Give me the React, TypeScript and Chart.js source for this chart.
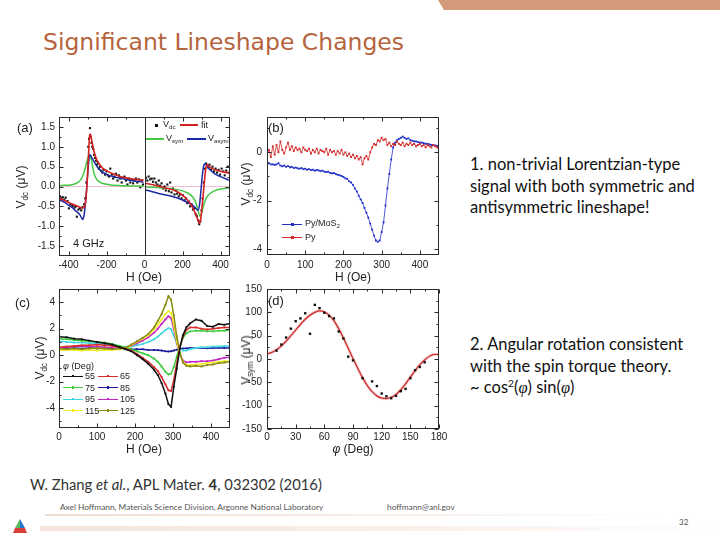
import React, { useEffect, useRef } from "react";
import { Chart, registerables } from "chart.js";
Chart.register(...registerables);

// ---------------- Panel (a): V_dc vs H, 4 GHz ----------------
const A_X_TICKS = [-400, -200, 0, 200, 400];
const A_X_MINOR = [-300, -100, 100, 300];
const A_Y_TICKS = [-1.5, -1.0, -0.5, 0, 0.5, 1.0, 1.5];
const A_Y_MINOR = [-1.25, -0.75, -0.25, 0.25, 0.75, 1.25];

const A_ZERO_H = [-450, 450];
const A_ZERO_V = [0, 0];

const A_L_FIT_H = [-450, -420, -400, -380, -360, -340, -325, -315, -308, -302, -297, -293, -289, -285, -280, -272, -262, -250, -235, -220, -200, -180, -150, -120, -90, -60, -30, -5];
const A_L_FIT_V = [-0.30, -0.35, -0.40, -0.44, -0.48, -0.52, -0.54, -0.50, -0.30, 0.10, 0.55, 0.95, 1.28, 1.32, 1.22, 1.02, 0.82, 0.66, 0.55, 0.46, 0.40, 0.35, 0.29, 0.24, 0.21, 0.19, 0.17, 0.16];
const A_L_SYM_H = [-450, -420, -390, -365, -345, -330, -318, -308, -300, -294, -289, -284, -278, -271, -262, -250, -235, -215, -190, -160, -120, -80, -40, -5];
const A_L_SYM_V = [0.02, 0.03, 0.04, 0.07, 0.12, 0.22, 0.36, 0.53, 0.68, 0.77, 0.80, 0.77, 0.64, 0.45, 0.28, 0.17, 0.11, 0.07, 0.05, 0.03, 0.02, 0.01, 0.01, 0.0];
const A_L_ASYM_H = [-450, -420, -400, -380, -365, -350, -339, -330, -325, -318, -312, -306, -300, -295, -289, -284, -277, -267, -255, -241, -220, -188, -150, -118, -80, -40, -5];
const A_L_ASYM_V = [-0.33, -0.40, -0.47, -0.53, -0.60, -0.66, -0.72, -0.80, -0.83, -0.72, -0.47, -0.15, 0.25, 0.54, 0.80, 0.78, 0.72, 0.64, 0.54, 0.45, 0.36, 0.28, 0.23, 0.20, 0.16, 0.13, 0.11];

const A_R_FIT_H = [5, 40, 80, 120, 160, 200, 230, 250, 265, 278, 288, 296, 304, 312, 320, 328, 336, 350, 380, 410, 445];
const A_R_FIT_V = [0.08, 0.05, 0.0, -0.05, -0.10, -0.22, -0.36, -0.50, -0.65, -0.80, -0.92, -0.82, -0.45, -0.05, 0.35, 0.55, 0.52, 0.47, 0.41, 0.37, 0.34];
const A_R_SYM_H = [5, 50, 100, 150, 200, 230, 255, 270, 282, 292, 300, 310, 322, 335, 355, 385, 420, 445];
const A_R_SYM_V = [-0.01, -0.02, -0.04, -0.06, -0.11, -0.17, -0.27, -0.40, -0.60, -0.75, -0.68, -0.50, -0.32, -0.22, -0.14, -0.08, -0.05, -0.03];
const A_R_ASYM_H = [5, 40, 80, 120, 160, 200, 230, 255, 272, 282, 290, 298, 306, 314, 320, 330, 345, 370, 400, 445];
const A_R_ASYM_V = [-0.09, -0.13, -0.18, -0.22, -0.27, -0.34, -0.41, -0.48, -0.56, -0.60, -0.45, -0.05, 0.35, 0.55, 0.57, 0.50, 0.42, 0.32, 0.25, 0.16];

const A_L_DOT_H = [-445, -438, -430, -422, -415, -405, -398, -390, -382, -375, -368, -360, -356, -348, -340, -333, -326, -318, -312, -306, -300, -296, -292, -287, -283, -279, -275, -270, -265, -260, -255, -250, -245, -240, -235, -228, -222, -215, -208, -200, -193, -186, -180, -172, -165, -158, -150, -142, -135, -128, -120, -112, -105, -98, -90, -82, -75, -68, -60, -52, -45, -38, -30, -22, -15, -8];
const A_L_DOT_V = [-0.25, -0.30, -0.27, -0.33, -0.28, -0.37, -0.55, -0.45, -0.50, -0.48, -0.53, -0.50, -0.76, -0.58, -0.55, -0.60, -0.52, -0.45, -0.30, 0.10, 0.60, 1.00, 1.20, 1.47, 1.25, 1.10, 1.00, 0.95, 0.80, 0.72, 0.65, 0.55, 0.60, 0.45, 0.50, 0.40, 0.35, 0.42, 0.30, 0.38, 0.28, 0.25, 0.45, 0.30, 0.20, 0.25, 0.32, 0.15, 0.28, 0.20, 0.10, 0.22, 0.25, 0.15, 0.05, 0.20, 0.10, 0.18, 0.08, 0.15, 0.20, 0.10, 0.18, -0.02, 0.15, 0.05];
const A_R_DOT_H = [8, 15, 22, 30, 38, 45, 52, 60, 68, 75, 82, 90, 98, 105, 112, 120, 128, 135, 142, 150, 158, 165, 172, 180, 188, 195, 202, 210, 218, 225, 232, 240, 248, 255, 262, 270, 276, 282, 288, 294, 300, 306, 312, 318, 324, 330, 336, 342, 350, 358, 366, 374, 382, 390, 398, 406, 414, 422, 430, 438, 446];
const A_R_DOT_V = [0.22, 0.15, 0.25, 0.18, 0.20, 0.12, 0.20, 0.10, 0.05, 0.15, 0.02, 0.08, -0.05, 0.00, -0.10, 0.05, -0.12, 0.10, -0.15, -0.05, -0.20, -0.10, -0.18, -0.25, -0.20, -0.30, -0.22, -0.35, -0.30, -0.42, -0.38, -0.50, -0.45, -0.58, -0.55, -0.70, -0.75, -0.85, -0.95, -0.88, -0.60, -0.30, 0.10, 0.45, 0.58, 0.52, 0.48, 0.55, 0.42, 0.50, 0.38, 0.45, 0.35, 0.42, 0.30, 0.45, 0.38, 0.28, 0.40, 0.50, 0.35];

// ---------------- Panel (b): Py/MoS2 vs Py ----------------
const B_X_TICKS = [0, 100, 200, 300, 400];
const B_X_MINOR = [50, 150, 250, 350];
const B_Y_TICKS = [-4, -2, 0];
const B_Y_MINOR = [-3, -1, 1];
const B_H = [
  0, 5, 10, 15, 20, 25, 30, 35, 40, 45,
  50, 55, 60, 65, 70, 75, 80, 85, 90, 95,
  100, 105, 110, 115, 120, 125, 130, 135, 140, 145,
  150, 155, 160, 165, 170, 175, 180, 185, 190, 195,
  200, 205, 210, 215, 220, 225, 230, 235, 240, 245,
  250, 255, 260, 265, 270, 275, 280, 285, 290, 295,
  300, 305, 310, 315, 320, 325, 330, 335, 340, 345,
  350, 355, 360, 365, 370, 375, 380, 385, 390, 395,
  400, 405, 410, 415, 420, 425, 430, 435, 440, 445,
  450,
];
const B_PY_MOS2 = [
  -0.55, -0.45, -0.50, -0.50, -0.52, -0.50, -0.45, -0.55, -0.58, -0.55,
  -0.60, -0.57, -0.62, -0.60, -0.65, -0.63, -0.66, -0.68, -0.65, -0.70,
  -0.68, -0.72, -0.70, -0.74, -0.72, -0.76, -0.73, -0.75, -0.78, -0.76,
  -0.80, -0.82, -0.80, -0.85, -0.87, -0.86, -0.90, -0.93, -0.95, -0.98,
  -1.02, -1.08, -1.10, -1.20, -1.25, -1.35, -1.50, -1.62, -1.80, -1.95,
  -2.10, -2.30, -2.50, -2.70, -2.95, -3.20, -3.45, -3.65, -3.70, -3.65,
  -3.30, -2.90, -2.20, -1.50, -0.90, -0.30, 0.20, 0.40, 0.50, 0.55,
  0.60, 0.65, 0.60, 0.55, 0.58, 0.50, 0.48, 0.45, 0.45, 0.42,
  0.40, 0.40, 0.38, 0.35, 0.35, 0.33, 0.30, 0.30, 0.28, 0.27,
  0.25,
];
const B_PY = [
  -0.10, 0.10, -0.20, 0.25, -0.10, 0.30, 0.00, 0.45, 0.10, -0.05,
  0.20, 0.40, 0.10, 0.25, 0.05, 0.20, 0.10, 0.15, 0.00, 0.20,
  0.10, 0.05, 0.15, -0.05, 0.10, 0.00, 0.15, -0.05, 0.10, 0.05,
  0.00, 0.15, -0.10, 0.10, 0.00, 0.05, -0.10, 0.05, -0.05, 0.10,
  -0.10, 0.00, -0.15, -0.05, -0.20, -0.10, -0.25, -0.15, -0.30, -0.20,
  -0.50, -0.25, -0.15, -0.30, 0.00, 0.20, 0.35, 0.30, 0.50, 0.45,
  0.60, 0.50, 0.55, 0.30, 0.40, 0.25, 0.35, 0.30, 0.45, 0.35,
  0.30, 0.40, 0.25, 0.35, 0.30, 0.40, 0.30, 0.35, 0.25, 0.30,
  0.35, 0.25, 0.30, 0.20, 0.30, 0.25, 0.20, 0.30, 0.25, 0.20,
  0.25,
];

// ---------------- Panel (c): angle dependence of V_dc ----------------
const C_X_TICKS = [0, 100, 200, 300, 400];
const C_X_MINOR = [50, 150, 250, 350];
const C_Y_TICKS = [-4, -2, 0, 2, 4];
const C_Y_MINOR = [-5, -3, -1, 1, 3];
const C_H = [0, 20, 40, 60, 80, 100, 120, 140, 160, 175, 190, 205, 220, 235, 250, 260, 270, 280, 288, 295, 302, 310, 318, 326, 335, 345, 360, 375, 390, 405, 420, 435, 450];
const C_PHI = ["55", "65", "75", "85", "95", "105", "115", "125"];
const C_55 = [1.4, 1.35, 1.25, 1.2, 1.1, 1.0, 0.9, 0.8, 0.6, 0.45, 0.3, 0.0, -0.3, -0.65, -1.1, -1.5, -2.1, -2.9, -3.7, -3.9, -2.4, -1.0, 0.5, 1.5, 2.1, 2.4, 2.7, 2.6, 2.2, 2.15, 2.35, 2.3, 2.4];
const C_65 = [0.6, 0.65, 0.7, 0.75, 0.75, 0.8, 0.75, 0.7, 0.6, 0.5, 0.35, 0.1, -0.2, -0.5, -0.9, -1.2, -1.65, -2.2, -2.65, -2.7, -1.9, -0.6, 0.6, 1.4, 1.9, 2.1, 2.1, 2.0, 1.95, 2.0, 2.05, 2.1, 2.1];
const C_75 = [1.25, 1.2, 1.15, 1.1, 1.05, 1.0, 0.95, 0.85, 0.7, 0.6, 0.45, 0.3, 0.15, 0.0, -0.25, -0.5, -0.85, -1.25, -1.45, -1.4, -0.9, -0.1, 0.7, 1.3, 1.65, 1.8, 1.85, 1.85, 1.8, 1.8, 1.85, 1.85, 1.9];
const C_85 = [0.5, 0.5, 0.55, 0.5, 0.55, 0.5, 0.5, 0.5, 0.5, 0.5, 0.45, 0.45, 0.45, 0.4, 0.4, 0.38, 0.35, 0.3, 0.28, 0.3, 0.35, 0.42, 0.48, 0.5, 0.52, 0.55, 0.55, 0.55, 0.52, 0.55, 0.55, 0.55, 0.55];
const C_95 = [1.05, 1.0, 0.95, 0.95, 0.9, 0.9, 0.85, 0.75, 0.65, 0.6, 0.65, 0.75, 0.85, 1.0, 1.2, 1.4, 1.65, 1.9, 2.05, 1.95, 1.5, 0.9, 0.5, 0.35, 0.35, 0.45, 0.55, 0.6, 0.6, 0.65, 0.65, 0.7, 0.7];
const C_105 = [0.55, 0.6, 0.65, 0.7, 0.65, 0.65, 0.6, 0.55, 0.5, 0.55, 0.7, 0.9, 1.1, 1.35, 1.7, 2.0, 2.35, 2.7, 2.95, 2.8, 2.0, 0.9, 0.1, -0.4, -0.55, -0.5, -0.5, -0.45, -0.45, -0.4, -0.3, -0.2, -0.15];
const C_115 = [0.35, 0.4, 0.4, 0.35, 0.4, 0.35, 0.4, 0.4, 0.45, 0.5, 0.75, 1.0, 1.25, 1.5, 1.95, 2.3, 2.7, 3.1, 3.35, 3.2, 2.3, 1.0, 0.1, -0.5, -0.7, -0.75, -0.7, -0.65, -0.6, -0.55, -0.5, -0.45, -0.45];
const C_125 = [0.5, 0.45, 0.5, 0.45, 0.5, 0.55, 0.5, 0.45, 0.5, 0.55, 0.8, 1.05, 1.3, 1.6, 2.1, 2.6, 3.1, 3.8, 4.45, 4.2, 3.0, 1.4, 0.2, -0.55, -0.8, -0.85, -0.8, -0.85, -0.75, -0.7, -0.6, -0.55, -0.5];
const C_COLORS = ["#111111", "#d42a2a", "#3ccc3c", "#1a1a9a", "#3ed8e0", "#c424c4", "#eeee20", "#8a8a10"];

// ---------------- Panel (d): V_sym vs angle ----------------
const D_X_TICKS = [0, 30, 60, 90, 120, 150, 180];
const D_X_MINOR = [15, 45, 75, 105, 135, 165];
const D_Y_TICKS = [-150, -100, -50, 0, 50, 100, 150];
const D_Y_MINOR = [-125, -75, -25, 25, 75, 125];
const D_FIT_PHI = [0, 5, 10, 15, 20, 25, 30, 35, 40, 45, 50, 55, 60, 65, 70, 75, 80, 85, 90, 95, 100, 105, 110, 115, 120, 125, 130, 135, 140, 145, 150, 155, 160, 165, 170, 175, 180];
const D_FIT_V = [11, 14, 20, 28, 38, 50, 62, 74, 85, 94, 100, 103, 101, 94, 82, 65, 45, 23, 1, -20, -40, -57, -70, -79, -84, -85, -82, -76, -66, -53, -39, -25, -12, -2, 6, 10, 10];
const D_DOT_PHI = [10, 15, 20, 25, 30, 35, 40, 45, 50, 55, 60, 65, 70, 75, 80, 85, 90, 100, 110, 115, 120, 125, 130, 135, 140, 145, 150, 155, 160, 165];
const D_DOT_V = [18, 31, 46, 65, 81, 87, 98, 54, 116, 109, 99, 92, 87, 59, 44, 5, -3, -41, -48, -58, -74, -80, -84, -79, -69, -64, -41, -24, -17, -7];

// ---------------- helpers ----------------
const pts = (xs: number[], ys: number[]) => xs.map((x, i) => ({ x, y: ys[i] }));
const TICK_FONT = { family: "'Liberation Sans', Arial, sans-serif", size: 10 };

function makeFrame(xMajor: number[], xMinor: number[], yMajor: number[], yMinor: number[], divider?: number) {
  return {
    id: "frame",
    afterDatasetsDraw(chart: any) {
      const { ctx, chartArea: a, scales } = chart;
      const xs = scales.x, ys = scales.y;
      ctx.save();
      ctx.strokeStyle = "#2a2a2a";
      ctx.lineWidth = 1;
      const L = Math.round(a.left) + 0.5, R = Math.round(a.right) - 0.5;
      const T = Math.round(a.top) + 0.5, B = Math.round(a.bottom) - 0.5;
      const seg = (x1: number, y1: number, x2: number, y2: number) => {
        ctx.beginPath(); ctx.moveTo(x1, y1); ctx.lineTo(x2, y2); ctx.stroke();
      };
      ctx.strokeRect(L, T, R - L, B - T);
      const xt = (vals: number[], len: number) => vals.forEach((v) => {
        const p = Math.round(xs.getPixelForValue(v)) + 0.5;
        seg(p, B, p, B - len); seg(p, T, p, T + len);
      });
      const yt = (vals: number[], len: number) => vals.forEach((v) => {
        const p = Math.round(ys.getPixelForValue(v)) + 0.5;
        seg(L, p, L + len, p); seg(R, p, R - len, p);
      });
      xt(xMajor, 4); xt(xMinor, 2); yt(yMajor, 4); yt(yMinor, 2);
      if (divider !== undefined) {
        const p = Math.round(xs.getPixelForValue(divider)) + 0.5;
        seg(p, T, p, B);
      }
      ctx.restore();
    },
  };
}

function makeScales(p: any) {
  return {
    x: {
      type: "linear", min: p.xmin, max: p.xmax,
      grid: { display: false, drawTicks: false }, border: { display: false },
      afterBuildTicks: (s: any) => { s.ticks = p.xt.map((v: number) => ({ value: v })); },
      afterFit: (s: any) => { s.height = p.xh; s.paddingLeft = 0; s.paddingRight = 0; },
      ticks: { font: TICK_FONT, color: "#222", padding: p.xpad, autoSkip: false, maxRotation: 0, minRotation: 0,
        callback: (v: any) => String(v) },
    },
    y: {
      type: "linear", min: p.ymin, max: p.ymax,
      grid: { display: false, drawTicks: false }, border: { display: false },
      afterBuildTicks: (s: any) => { s.ticks = p.yt.map((v: number) => ({ value: v })); },
      afterFit: (s: any) => { s.width = p.yw; s.paddingTop = 0; s.paddingBottom = 0; },
      ticks: { font: TICK_FONT, color: "#222", padding: p.ypad, autoSkip: false,
        callback: p.yf || ((v: any) => String(v)) },
    },
  };
}

function baseOptions(p: any) {
  return {
    animation: false, responsive: false, maintainAspectRatio: false, devicePixelRatio: 1, events: [],
    layout: { padding: p.pad },
    plugins: { legend: { display: false }, tooltip: { enabled: false }, title: { display: false } },
    scales: makeScales(p),
  };
}

const line = (data: any, color: string, width: number) => ({
  data, showLine: true, borderColor: color, borderWidth: width, pointRadius: 0,
  cubicInterpolationMode: "monotone", fill: false,
});
const dots = (data: any, color: string, r: number) => ({
  data, showLine: false, pointRadius: r, pointStyle: "rect", pointBackgroundColor: color,
  pointBorderColor: color, pointBorderWidth: 0,
});
const dotLine = (data: any, color: string, r: number, w: number) => ({
  data, showLine: true, borderColor: color, borderWidth: w, pointRadius: r, pointStyle: "rect",
  pointBackgroundColor: color, pointBorderColor: color, pointBorderWidth: 0, tension: 0,
});

function configA() {
  return {
    type: "scatter",
    data: {
      datasets: [
        line(pts(A_L_FIT_H, A_L_FIT_V), "#d42020", 1.6),
        line(pts(A_R_FIT_H, A_R_FIT_V), "#d42020", 1.6),
        line(pts(A_L_ASYM_H, A_L_ASYM_V), "#1c2aa6", 1.5),
        line(pts(A_R_ASYM_H, A_R_ASYM_V), "#1c2aa6", 1.5),
        line(pts(A_L_SYM_H, A_L_SYM_V), "#44c844", 1.5),
        line(pts(A_R_SYM_H, A_R_SYM_V), "#44c844", 1.5),
        dots(pts(A_L_DOT_H, A_L_DOT_V), "#111", 1.5),
        dots(pts(A_R_DOT_H, A_R_DOT_V), "#111", 1.5),
        { ...line(pts(A_ZERO_H, A_ZERO_V), "#f2bcd2", 1), cubicInterpolationMode: "default" },
      ],
    },
    options: baseOptions({ xmin: -450, xmax: 450, ymin: -1.75, ymax: 1.75, xt: A_X_TICKS, yt: A_Y_TICKS,
      yw: 59, xh: 29, xpad: 3, ypad: 4, pad: { left: 0, top: 12, right: 10, bottom: 0 },
      yf: (v: any) => Number(v).toFixed(1) }),
    plugins: [makeFrame(A_X_TICKS, A_X_MINOR, A_Y_TICKS, A_Y_MINOR, 0)],
  };
}

function configB() {
  return {
    type: "scatter",
    data: {
      datasets: [
        dotLine(pts(B_H, B_PY), "#d42828", 1.3, 0.8),
        dotLine(pts(B_H, B_PY_MOS2), "#2030c8", 1.3, 0.8),
      ],
    },
    options: baseOptions({ xmin: 0, xmax: 450, ymin: -4.25, ymax: 1.46, xt: B_X_TICKS, yt: B_Y_TICKS,
      yw: 31, xh: 30, xpad: 4, ypad: 5, pad: { left: 0, top: 12, right: 11, bottom: 0 } }),
    plugins: [makeFrame(B_X_TICKS, B_X_MINOR, B_Y_TICKS, B_Y_MINOR)],
  };
}

function configC() {
  const series = [C_55, C_65, C_75, C_85, C_95, C_105, C_115, C_125];
  const order = [0, 7, 1, 6, 2, 5, 4, 3];
  return {
    type: "scatter",
    data: { datasets: order.map((i) => dotLine(pts(C_H, series[i]), C_COLORS[i], 1.3, 1.5)) },
    options: baseOptions({ xmin: 0, xmax: 450, ymin: -5.5, ymax: 5, xt: C_X_TICKS, yt: C_Y_TICKS,
      yw: 59, xh: 22, xpad: 3, ypad: 4, pad: { left: 0, top: 9, right: 10, bottom: 0 } }),
    plugins: [makeFrame(C_X_TICKS, C_X_MINOR, C_Y_TICKS, C_Y_MINOR)],
  };
}

function configD() {
  return {
    type: "scatter",
    data: {
      datasets: [
        dots(pts(D_DOT_PHI, D_DOT_V), "#111", 1.7),
        line(pts(D_FIT_PHI, D_FIT_V), "#cf2a2a", 1.3),
        line(pts(D_FIT_PHI, D_FIT_V), "rgba(235,150,150,0.4)", 3.2),
      ],
    },
    options: baseOptions({ xmin: 0, xmax: 180, ymin: -150, ymax: 150, xt: D_X_TICKS, yt: D_Y_TICKS,
      yw: 31, xh: 21, xpad: 2, ypad: 5, pad: { left: 0, top: 9, right: 11, bottom: 0 } }),
    plugins: [makeFrame(D_X_TICKS, D_X_MINOR, D_Y_TICKS, D_Y_MINOR)],
  };
}

function ChartBox({ left, top, width, height, make }: any) {
  const ref = useRef<HTMLCanvasElement>(null);
  useEffect(() => {
    const c = new Chart(ref.current as any, make() as any);
    return () => c.destroy();
  }, []);
  return (
    <canvas ref={ref} width={width} height={height}
      style={{ position: "absolute", left, top, width, height }} />
  );
}

const AX = "'Liberation Sans', Arial, sans-serif";
const Sub = ({ children }: any) => (
  <span style={{ fontSize: "0.68em", verticalAlign: "-0.35em", lineHeight: 0 }}>{children}</span>
);
const Txt = ({ x, y, size = 12, center = false, children, style }: any) => (
  <div style={{ position: "absolute", left: x, top: y, transform: center ? "translate(-50%,-50%)" : "translate(0,-50%)",
    whiteSpace: "nowrap", lineHeight: 1, fontFamily: AX, fontSize: size, color: "#222", ...style }}>{children}</div>
);
const VTxt = ({ x, y, size = 12, children }: any) => (
  <div style={{ position: "absolute", left: x, top: y, transform: "translate(-50%,-50%) rotate(-90deg)",
    whiteSpace: "nowrap", lineHeight: 1, fontFamily: AX, fontSize: size, color: "#222" }}>{children}</div>
);
const Seg = ({ x1, x2, y, color, w = 1.5 }: any) => (
  <div style={{ position: "absolute", left: x1, top: y - w / 2, width: x2 - x1, height: w, background: color }} />
);
const Mark = ({ x, y, color, s = 3 }: any) => (
  <div style={{ position: "absolute", left: x - s / 2, top: y - s / 2, width: s, height: s, background: color }} />
);

export default function App() {
  useEffect(() => { document.body.style.margin = "0"; }, []);
  const cLegend = [
    [63, 376, 0], [98, 376, 1], [63, 387.5, 2], [98, 387.5, 3],
    [63, 399, 4], [98, 399, 5], [63, 410.5, 6], [98, 410.5, 7],
  ];
  const note = { position: "absolute" as const, left: 470, width: 250, fontSize: 16.5, lineHeight: "21.5px",
    color: "#111", whiteSpace: "nowrap" as const };
  return (
    <div style={{ position: "absolute", left: 0, top: 0, width: 720, height: 540, overflow: "hidden",
      background: "#fff", fontFamily: "Lato, sans-serif" }}>
      {/* top decoration */}
      <svg width={720} height={20} style={{ position: "absolute", left: 0, top: 0 }}>
        <polygon points="438,0 720,0 720,10 444,10" fill="#d49b7a" />
      </svg>
      <div style={{ position: "absolute", left: 43, top: 27, fontFamily: "'DejaVu Sans', sans-serif", fontSize: 23.5,
        lineHeight: "30px", color: "#b5643d", whiteSpace: "nowrap" }}>Significant Lineshape Changes</div>

      <ChartBox left={0} top={105} width={240} height={180} make={configA} />
      <ChartBox left={236} top={105} width={214} height={180} make={configB} />
      <ChartBox left={0} top={280} width={240} height={170} make={configC} />
      <ChartBox left={236} top={280} width={214} height={170} make={configD} />

      {/* panel (a) annotations */}
      <Txt x={17} y={127} size={13}>(a)</Txt>
      <VTxt x={21} y={187}>V<Sub>dc</Sub> (μV)</VTxt>
      <Txt x={144} y={277} center>H (Oe)</Txt>
      <Txt x={73} y={243} size={11}>4 GHz</Txt>
      <Mark x={156} y={125} color="#111" />
      <Txt x={163} y={124} size={9}>V<Sub>dc</Sub></Txt>
      <Seg x1={180} x2={198} y={125} color="#d42020" />
      <Txt x={201} y={125} size={9}>fit</Txt>
      <Seg x1={146} x2={164} y={139} color="#44c844" />
      <Txt x={166} y={138} size={9}>V<Sub>sym</Sub></Txt>
      <Seg x1={187} x2={206} y={139} color="#1c2aa6" />
      <Txt x={208} y={138} size={9}>V<Sub>asym</Sub></Txt>

      {/* panel (b) annotations */}
      <Txt x={268} y={127} size={13}>(b)</Txt>
      <VTxt x={246} y={184}>V<Sub>dc</Sub> (μV)</VTxt>
      <Txt x={353} y={277} center>H (Oe)</Txt>
      <Seg x1={282} x2={302} y={224} color="#2030c8" w={1} />
      <Mark x={292} y={224} color="#2030c8" />
      <Txt x={305} y={223} size={9}>Py/MoS<Sub>2</Sub></Txt>
      <Seg x1={282} x2={302} y={237} color="#d42828" w={1} />
      <Mark x={292} y={237} color="#d42828" />
      <Txt x={305} y={237} size={9}>Py</Txt>

      {/* panel (c) annotations */}
      <Txt x={15} y={302} size={13}>(c)</Txt>
      <VTxt x={40} y={358}>V<Sub>dc</Sub> (μV)</VTxt>
      <Txt x={144} y={449} center>H (Oe)</Txt>
      <Txt x={63} y={366} size={9}><i>φ</i> (Deg)</Txt>
      {cLegend.map(([x, y, i]) => (
        <React.Fragment key={i}>
          <Seg x1={x} x2={x + 20} y={y} color={C_COLORS[i]} w={1} />
          <Mark x={x + 10} y={y} color={C_COLORS[i]} s={2.5} />
          <Txt x={x + 22} y={y} size={9}>{C_PHI[i]}</Txt>
        </React.Fragment>
      ))}

      {/* panel (d) annotations */}
      <Txt x={268} y={300} size={13}>(d)</Txt>
      <VTxt x={246} y={360}>V<Sub>sym</Sub> (μV)</VTxt>
      <Txt x={353} y={449} center><i>φ</i> (Deg)</Txt>

      {/* right-hand notes */}
      <div style={{ ...note, top: 154 }}>
        1. non-trivial Lorentzian-type<br />signal with both symmetric and<br />antisymmetric lineshape!
      </div>
      <div style={{ ...note, top: 334 }}>
        2. Angular rotation consistent<br />with the spin torque theory.<br />
        ~ cos<sup style={{ fontSize: "0.62em", lineHeight: 0 }}>2</sup>(<i style={{ fontFamily: "serif" }}>φ</i>) sin(<i style={{ fontFamily: "serif" }}>φ</i>)
      </div>

      {/* footer */}
      <div style={{ position: "absolute", left: 30, top: 475, fontSize: 14.8, color: "#333", whiteSpace: "nowrap" }}>
        W. Zhang <i>et al.</i>, APL Mater. <b>4</b>, 032302 (2016)
      </div>
      <div style={{ position: "absolute", left: 45, top: 514, width: 620, height: 2,
        background: "linear-gradient(to right, #f0ddd2, #fbf3ee 70%, #ffffff)" }} />
      <div style={{ position: "absolute", left: 40, top: 526, width: 680, height: 5,
        background: "linear-gradient(to right, #f4e4da, #fbf4f0 70%, #ffffff)" }} />
      <div style={{ position: "absolute", left: 60, top: 502, fontSize: 8.3, color: "#555", whiteSpace: "nowrap" }}>
        Axel Hoffmann, Materials Science Division, Argonne National Laboratory
      </div>
      <div style={{ position: "absolute", left: 387, top: 502, fontSize: 8.3, color: "#555", whiteSpace: "nowrap" }}>
        hoffmann@anl.gov
      </div>
      <div style={{ position: "absolute", left: 679, top: 517, fontSize: 8, color: "#555" }}>32</div>
      <svg width={18} height={18} style={{ position: "absolute", left: 11, top: 518 }}>
        <polygon points="9,1 4,10 9,10" fill="#5cb85c" />
        <polygon points="9,1 14,10 9,10" fill="#1f77c9" />
        <polygon points="4,10 14,10 16,15 2,15" fill="#d8403a" />
      </svg>
    </div>
  );
}
